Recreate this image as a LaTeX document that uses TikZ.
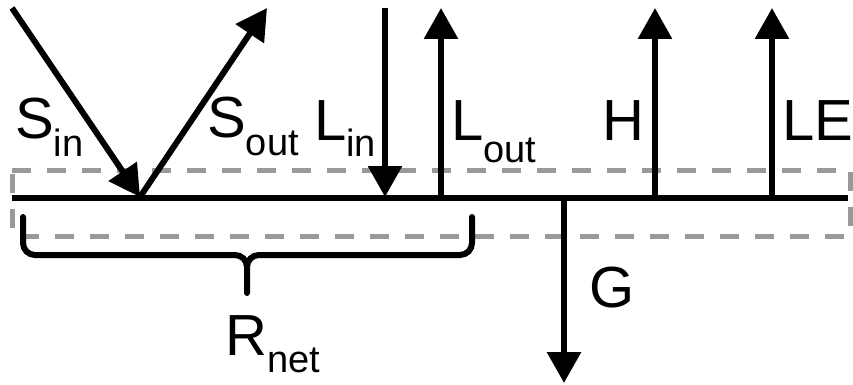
\documentclass[tikz,border=0pt]{standalone}
\usepackage{fontspec}
\setmainfont{Liberation Sans}
\usetikzlibrary{arrows.meta}
\newcommand\sublbl[3]{#1\raisebox{-#3pt}{\fontsize{38}{40}\selectfont #2}}
\tikzset{
  flux/.style={line width=6pt, -{Triangle[width=33pt,length=31pt]}},
  surf/.style={line width=6pt},
  zone/.style={draw=black!40, line width=5pt, dash pattern=on 19pt off 16pt},
  bracestyle/.style={line width=6pt, line cap=round},
  lab/.style={anchor=base west, inner sep=0pt, font=\fontsize{58}{60}\selectfont}
}
\begin{document}
\begin{tikzpicture}[x=1pt,y=-1pt]
\useasboundingbox (0,0) rectangle (853,385);
% layer box
\draw[zone] (12,170) -- (850,170) -- (850,236) -- (12,236) -- cycle;
% surface
\coordinate (sl) at (12,198);
\coordinate (sr) at (848,198);
\draw[surf] (sl) -- (sr);
% points
\coordinate (sinA) at (12,8);
\coordinate (hit) at (140,197);
\coordinate (soutB) at (267,8);
\coordinate (linA) at (385,8);
\coordinate (linB) at (385,197);
\coordinate (loutA) at (441,198);
\coordinate (loutB) at (441,8);
\coordinate (hA) at (655,198);
\coordinate (hB) at (655,8);
\coordinate (leA) at (772,198);
\coordinate (leB) at (772,8);
\coordinate (gA) at (564,198);
\coordinate (gB) at (564,383);
\draw[flux] (sinA) -- (hit);
\draw[flux] (hit) -- (soutB);
\draw[flux] (linA) -- (linB);
\draw[flux] (loutA) -- (loutB);
\draw[flux] (hA) -- (hB);
\draw[flux] (leA) -- (leB);
\draw[flux] (gA) -- (gB);
% brace
\coordinate (bl) at (23,217);
\coordinate (br) at (472,217);
\coordinate (bm) at (247,293);
\draw[bracestyle] (bl) -- (23,243) to[out=-90,in=180] (35,255) -- (235,255) to[out=0,in=90] (bm |- 0,267) -- (bm);
\draw[bracestyle] (br) -- (472,243) to[out=-90,in=0] (460,255) -- (259,255) to[out=180,in=90] (bm |- 0,267);
% labels
\node[lab] (tsin) at (15,138) {\sublbl{S}{in}{18}};
\node[lab] (tsout) at (207,137) {\sublbl{S}{out}{18}};
\node[lab] (tlin) at (314,140) {\sublbl{L}{in}{16}};
\node[lab] (tlout) at (451,140) {\sublbl{L}{out}{22}};
\node[lab] (th) at (602,140) {H};
\node[lab] (tle) at (782,140) {LE};
\node[lab] (tg) at (589,307) {G};
\node[lab] (tr) at (225,355) {\sublbl{R}{net}{17}};
\end{tikzpicture}
\end{document}
